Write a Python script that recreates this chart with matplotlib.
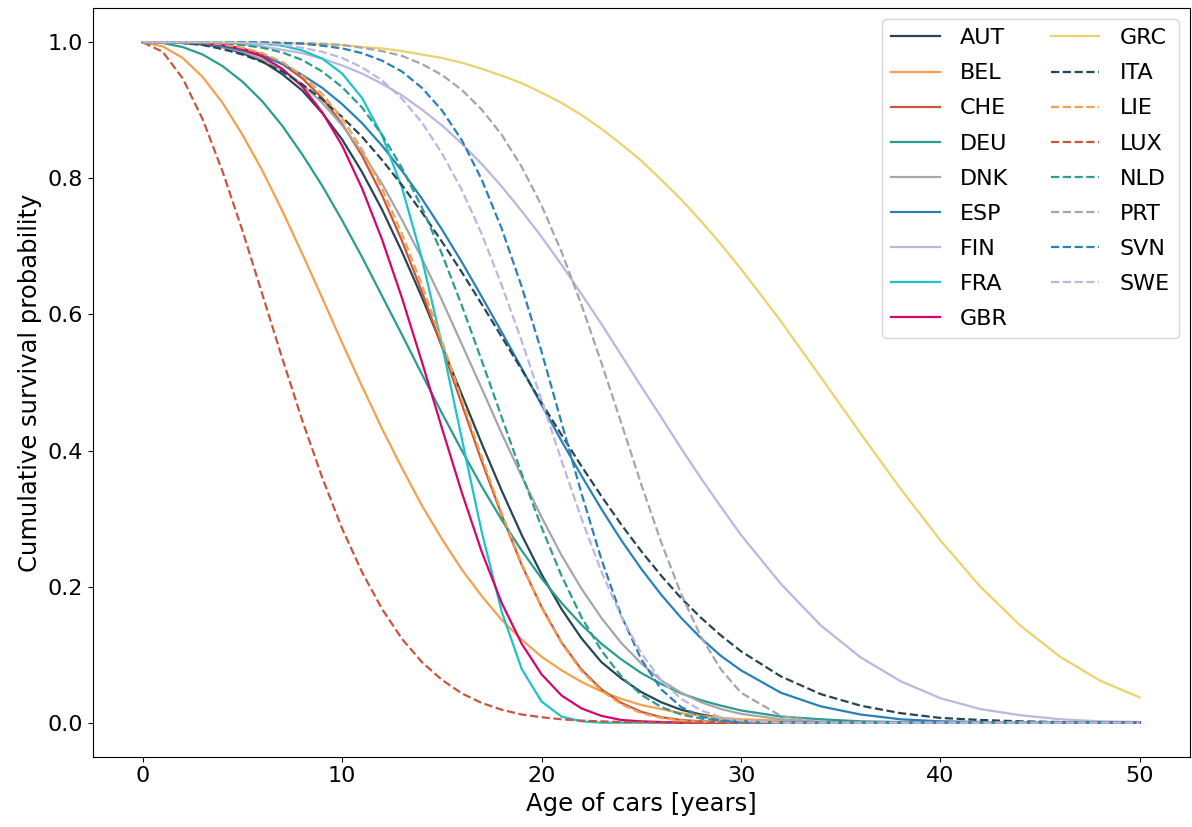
import matplotlib
matplotlib.use('Agg')
import matplotlib.pyplot as plt

ages = list(range(0, 31)) + list(range(32, 51, 2))

AUT = [1.0, 1.0, 0.999, 0.997, 0.993, 0.984, 0.972, 0.953, 0.929, 0.896,
       0.857, 0.809, 0.754, 0.692, 0.625, 0.554, 0.482, 0.410, 0.341, 0.276,
       0.218, 0.167, 0.124, 0.089, 0.065, 0.045, 0.030, 0.019, 0.012, 0.007,
       0.004, 0.001, 0, 0, 0, 0, 0, 0, 0, 0, 0]
BEL = [1.0, 0.994, 0.977, 0.949, 0.911, 0.864, 0.811, 0.752, 0.689, 0.624,
       0.558, 0.494, 0.432, 0.374, 0.319, 0.270, 0.225, 0.186, 0.151, 0.122,
       0.097, 0.077, 0.060, 0.046, 0.035, 0.026, 0.020, 0.014, 0.010, 0.007,
       0.005, 0.003, 0.001, 0.001, 0, 0, 0, 0, 0, 0, 0]
CHE = [1.0, 1.0, 1.0, 0.999, 0.996, 0.991, 0.982, 0.968, 0.947, 0.918,
       0.880, 0.833, 0.775, 0.708, 0.633, 0.552, 0.468, 0.384, 0.305, 0.232,
       0.170, 0.118, 0.078, 0.049, 0.029, 0.016, 0.008, 0.004, 0.002, 0.001,
       0, 0, 0, 0, 0, 0, 0, 0, 0, 0, 0]
DEU = [1.0, 0.999, 0.993, 0.982, 0.965, 0.942, 0.913, 0.877, 0.835, 0.789,
       0.738, 0.684, 0.627, 0.570, 0.512, 0.455, 0.400, 0.347, 0.298, 0.253,
       0.212, 0.176, 0.144, 0.116, 0.093, 0.073, 0.057, 0.043, 0.033, 0.025,
       0.018, 0.009, 0.005, 0.002, 0.001, 0, 0, 0, 0, 0, 0]
DNK = [1.0, 1.0, 0.999, 0.997, 0.993, 0.986, 0.975, 0.959, 0.938, 0.911,
       0.878, 0.838, 0.792, 0.739, 0.682, 0.621, 0.556, 0.491, 0.425, 0.362,
       0.302, 0.246, 0.197, 0.154, 0.117, 0.087, 0.062, 0.044, 0.030, 0.020,
       0.013, 0.005, 0.001, 0, 0, 0, 0, 0, 0, 0, 0]
ESP = [1.0, 1.0, 0.999, 0.997, 0.994, 0.988, 0.980, 0.968, 0.952, 0.933,
       0.909, 0.881, 0.848, 0.811, 0.770, 0.725, 0.677, 0.626, 0.574, 0.521,
       0.467, 0.414, 0.363, 0.314, 0.268, 0.226, 0.188, 0.154, 0.124, 0.098,
       0.077, 0.044, 0.024, 0.012, 0.005, 0.002, 0.001, 0, 0, 0, 0]
FIN = [1.0, 1.0, 1.0, 0.999, 0.998, 0.997, 0.994, 0.989, 0.984, 0.976,
       0.966, 0.954, 0.939, 0.922, 0.901, 0.878, 0.851, 0.821, 0.788, 0.752,
       0.714, 0.673, 0.630, 0.586, 0.540, 0.494, 0.449, 0.403, 0.359, 0.317,
       0.276, 0.204, 0.143, 0.096, 0.061, 0.036, 0.020, 0.011, 0.005, 0.002,
       0.001]
FRA = [1.0, 1.0, 1.0, 1.0, 1.0, 0.999, 0.998, 0.995, 0.988, 0.976,
       0.954, 0.918, 0.863, 0.786, 0.682, 0.556, 0.417, 0.280, 0.163, 0.079,
       0.031, 0.009, 0.002, 0, 0, 0, 0, 0, 0, 0,
       0, 0, 0, 0, 0, 0, 0, 0, 0, 0, 0]
GBR = [1.0, 1.0, 1.0, 0.999, 0.996, 0.990, 0.979, 0.961, 0.935, 0.897,
       0.848, 0.785, 0.710, 0.624, 0.530, 0.433, 0.338, 0.251, 0.176, 0.116,
       0.071, 0.040, 0.021, 0.010, 0.004, 0.002, 0.001, 0, 0, 0,
       0, 0, 0, 0, 0, 0, 0, 0, 0, 0, 0]
GRC = [1.0, 1.0, 1.0, 1.0, 1.0, 1.0, 0.999, 0.999, 0.998, 0.997,
       0.996, 0.993, 0.991, 0.987, 0.982, 0.977, 0.970, 0.961, 0.951, 0.940,
       0.926, 0.911, 0.893, 0.873, 0.850, 0.826, 0.798, 0.769, 0.737, 0.703,
       0.667, 0.590, 0.508, 0.425, 0.344, 0.268, 0.200, 0.143, 0.097, 0.062,
       0.037]
ITA = [1.0, 1.0, 0.999, 0.996, 0.990, 0.982, 0.971, 0.957, 0.938, 0.916,
       0.890, 0.861, 0.827, 0.790, 0.750, 0.707, 0.662, 0.615, 0.567, 0.519,
       0.470, 0.423, 0.377, 0.333, 0.291, 0.252, 0.216, 0.183, 0.154, 0.128,
       0.105, 0.068, 0.042, 0.025, 0.014, 0.007, 0.004, 0.002, 0.001, 0, 0]
LIE = [1.0, 1.0, 1.0, 0.999, 0.997, 0.992, 0.984, 0.971, 0.951, 0.924,
       0.888, 0.842, 0.785, 0.718, 0.643, 0.561, 0.475, 0.390, 0.308, 0.234,
       0.169, 0.117, 0.076, 0.047, 0.027, 0.014, 0.007, 0.003, 0.001, 0.001,
       0, 0, 0, 0, 0, 0, 0, 0, 0, 0, 0]
LUX = [1.0, 0.986, 0.947, 0.887, 0.810, 0.723, 0.629, 0.535, 0.444, 0.360,
       0.285, 0.221, 0.167, 0.123, 0.089, 0.063, 0.043, 0.029, 0.019, 0.012,
       0.008, 0.005, 0.003, 0.002, 0.001, 0.001, 0, 0, 0, 0,
       0, 0, 0, 0, 0, 0, 0, 0, 0, 0, 0]
NLD = [1.0, 1.0, 1.0, 1.0, 0.999, 0.996, 0.992, 0.985, 0.974, 0.957,
       0.934, 0.904, 0.864, 0.815, 0.757, 0.689, 0.613, 0.532, 0.449, 0.366,
       0.287, 0.216, 0.155, 0.106, 0.068, 0.041, 0.023, 0.012, 0.006, 0.003,
       0.001, 0, 0, 0, 0, 0, 0, 0, 0, 0, 0]
PRT = [1.0, 1.0, 1.0, 1.0, 1.0, 1.0, 1.0, 0.999, 0.999, 0.998,
       0.996, 0.992, 0.987, 0.980, 0.968, 0.952, 0.930, 0.901, 0.864, 0.817,
       0.760, 0.692, 0.614, 0.529, 0.440, 0.350, 0.265, 0.189, 0.126, 0.078,
       0.044, 0.010, 0.001, 0, 0, 0, 0, 0, 0, 0, 0]
SVN = [1.0, 1.0, 1.0, 1.0, 1.0, 1.0, 1.0, 0.999, 0.998, 0.995,
       0.991, 0.984, 0.973, 0.957, 0.933, 0.900, 0.856, 0.798, 0.726, 0.641,
       0.545, 0.441, 0.337, 0.240, 0.157, 0.093, 0.049, 0.023, 0.009, 0.003,
       0.001, 0, 0, 0, 0, 0, 0, 0, 0, 0, 0]
SWE = [1.0, 1.0, 1.0, 1.0, 1.0, 0.999, 0.998, 0.996, 0.992, 0.986,
       0.977, 0.963, 0.944, 0.917, 0.882, 0.837, 0.783, 0.718, 0.643, 0.561,
       0.474, 0.385, 0.300, 0.222, 0.156, 0.102, 0.062, 0.035, 0.018, 0.008,
       0.003, 0, 0, 0, 0, 0, 0, 0, 0, 0, 0]

countries = ['AUT', 'BEL', 'CHE', 'DEU', 'DNK', 'ESP', 'FIN', 'FRA', 'GBR',
             'GRC', 'ITA', 'LIE', 'LUX', 'NLD', 'PRT', 'SVN', 'SWE']
curves = [AUT, BEL, CHE, DEU, DNK, ESP, FIN, FRA, GBR,
          GRC, ITA, LIE, LUX, NLD, PRT, SVN, SWE]

colours = ['#264653', '#f4a04f', '#c8553d', '#2a9d8f', '#a6a6a6',
           '#2a80b9', '#bcb6e0', '#1cc4c8', '#d6056e', '#ebd26c']

fig, ax = plt.subplots(figsize=(11.92, 8.27), dpi=100)
fig.subplots_adjust(left=0.078, right=0.998, bottom=0.085, top=0.990)

for i, (name, s) in enumerate(zip(countries, curves)):
    style = '-' if i < 10 else '--'
    ax.plot(ages, s, style, color=colours[i % 10], lw=1.6, label=name)

ax.set_xlabel('Age of cars [years]', fontsize=17.5)
ax.set_ylabel('Cumulative survival probability', fontsize=17.5)
ax.tick_params(labelsize=16)
ax.set_xticks([0, 10, 20, 30, 40, 50])
ax.legend(ncol=2, loc='upper right', fontsize=16, handlelength=2.2,
          handletextpad=0.9, columnspacing=1.9, labelspacing=0.68)

plt.savefig('out.png', dpi=100)
